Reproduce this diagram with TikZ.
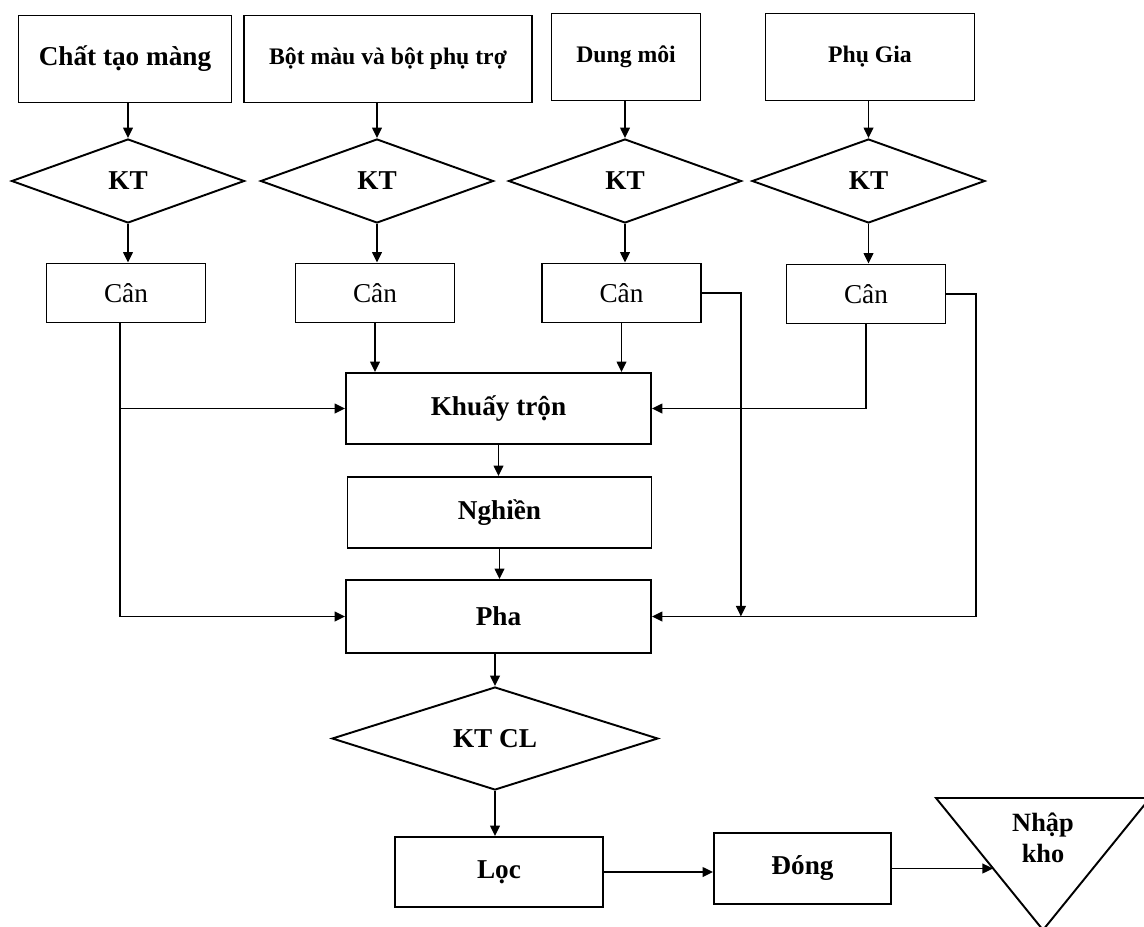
\documentclass[tikz,border=0pt]{standalone}
\usepackage{fontspec}
\setmainfont{Liberation Serif}
\usetikzlibrary{shapes.geometric, arrows.meta, positioning}
\tikzset{
  line/.style={draw=black, line width=1.1pt},
  arrow/.style={draw=black, line width=1.1pt, -{Triangle[length=6pt, width=5.5pt]}},
  block/.style={draw=black, line width=1.1pt, rectangle, align=center, inner sep=2pt, font=\fontsize{15.5}{18}\selectfont\bfseries},
  srcblock/.style={block, minimum height=1.74cm},
  smallsrc/.style={srcblock, font=\fontsize{13.5}{16}\selectfont\bfseries},
  canblock/.style={block, minimum width=3.18cm, minimum height=1.18cm, font=\fontsize{15.5}{18}\selectfont},
  check/.style={draw=black, line width=1.1pt, diamond, inner sep=0pt, minimum width=4.66cm, minimum height=1.68cm, font=\fontsize{15.5}{18}\selectfont\bfseries}
}
\begin{document}
\begin{tikzpicture}[x=0.02cm, y=-0.02cm]
  \useasboundingbox (0,0) rectangle (1144,927);

  \node [srcblock, minimum width=4.26cm] (chat) at (125,59) {Chất tạo màng};
  \node [smallsrc, minimum width=5.77cm] (bot) at (388,59) {Bột màu và bột phụ trợ};
  \node [smallsrc, minimum width=2.98cm] (dung) at (626,57) {Dung môi};
  \node [smallsrc, minimum width=4.18cm] (phu) at (870,57) {Phụ Gia};

  \node [check] (kt1) at (128,181) {KT};
  \node [check] (kt2) at (377,181) {KT};
  \node [check] (kt3) at (625,181) {KT};
  \node [check] (kt4) at (868.5,181) {KT};

  \node [canblock] (can1) at (126,293) {Cân};
  \node [canblock] (can2) at (375,293) {Cân};
  \node [canblock] (can3) at (621.5,293) {Cân};
  \node [canblock] (can4) at (866,294) {Cân};

  \node [block, minimum width=6.1cm, minimum height=1.42cm] (khuay) at (498.5,408.5) {Khuấy trộn};
  \node [block, minimum width=6.08cm, minimum height=1.42cm] (nghien) at (499.5,512.5) {Nghiền};
  \node [block, minimum width=6.1cm, minimum height=1.46cm] (pha) at (498.5,616.5) {Pha};
  \node [check, minimum width=6.52cm, minimum height=2.06cm] (ktcl) at (495,738.5) {KT CL};
  \node [block, minimum width=4.16cm, minimum height=1.4cm] (loc) at (499,872) {Lọc};
  \node [block, minimum width=3.54cm, minimum height=1.42cm] (dong) at (802.5,868.5) {Đóng};

  \draw [line, line join=miter] (936,798) -- (1150,798) -- (1043,930) -- cycle;
  \node [block, draw=none, font=\fontsize{15}{17.6}\selectfont\bfseries] (nhap) at (1043,838) {Nhập\\kho};
  \coordinate (khoin) at (993,867);

  \draw [arrow] (chat.south -| kt1.north) -- (kt1.north);
  \draw [arrow] (bot.south -| kt2.north) -- (kt2.north);
  \draw [arrow] (dung.south -| kt3.north) -- (kt3.north);
  \draw [arrow] (phu.south -| kt4.north) -- (kt4.north);

  \draw [arrow] (kt1.south) -- (kt1.south |- can1.north);
  \draw [arrow] (kt2.south) -- (kt2.south |- can2.north);
  \draw [arrow] (kt3.south) -- (kt3.south |- can3.north);
  \draw [arrow] (kt4.south) -- (kt4.south |- can4.north);

  \draw [arrow] ([xshift=-0.12cm]can1.south) |- (pha.west);
  \draw [arrow] ([xshift=-0.12cm]can1.south |- khuay.west) -- (khuay.west);
  \draw [arrow] (can2.south) -- (can2.south |- khuay.north);
  \draw [arrow] (can3.south) -- (can3.south |- khuay.north);
  \draw [arrow] (can3.east) -| ([xshift=1.78cm]pha.east);
  \draw [arrow] (can4.south) |- (khuay.east);
  \draw [arrow] (can4.east) -- ++(0.6cm,0) |- (pha.east);

  \draw [arrow] (khuay.south) -- (khuay.south |- nghien.north);
  \draw [arrow] (nghien.south) -- (nghien.south |- pha.north);
  \draw [arrow] (pha.south -| ktcl.north) -- (ktcl.north);
  \draw [arrow] (ktcl.south) -- (ktcl.south |- loc.north);
  \draw [arrow] (loc.east) -- (loc.east -| dong.west);
  \draw [arrow] (dong.east) -- (dong.east -| khoin);
\end{tikzpicture}
\end{document}
